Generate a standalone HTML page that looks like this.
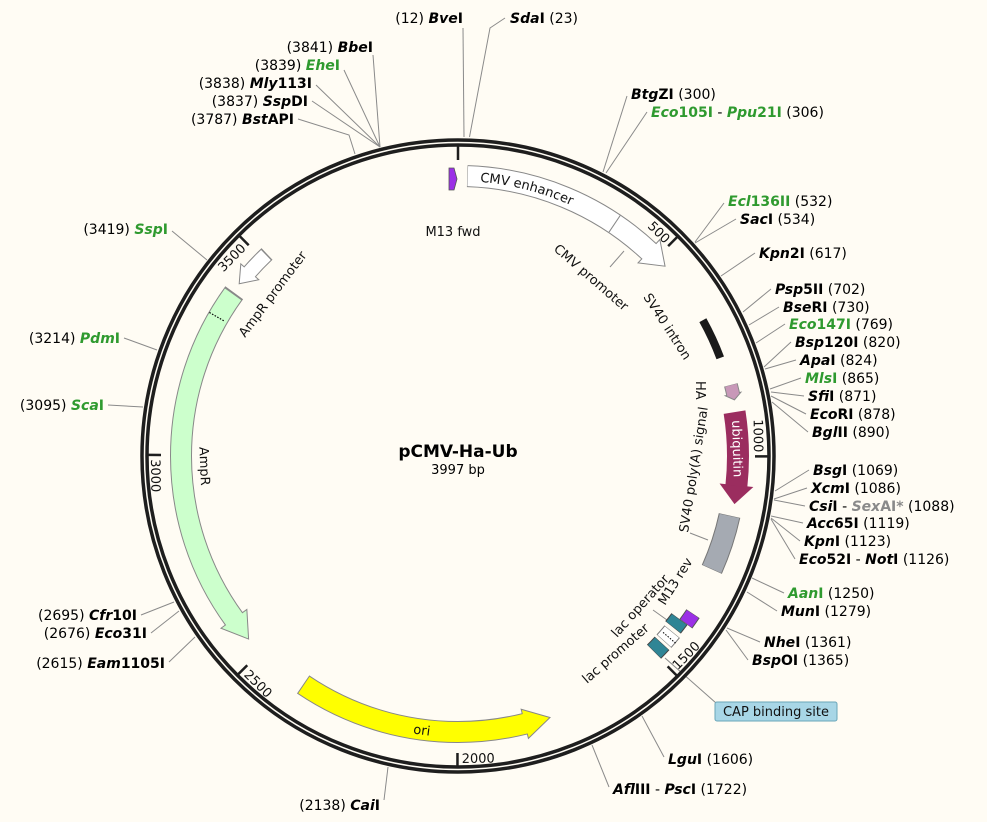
<!DOCTYPE html>
<html><head><meta charset="utf-8"><style>
html,body{margin:0;padding:0;background:#fffcf4;}
svg{display:block;font-family:"DejaVu Sans","Liberation Sans",sans-serif;}
.s{font-size:14px;font-weight:bold;fill:#000;white-space:pre;}
.n{font-weight:normal;}
.i{font-style:italic;}
.g{fill:#2f9a2f;}
.f{font-size:13px;fill:#111;}
.ll{stroke:#8a8a8a;stroke-width:1;fill:none;}
</style></head><body>
<svg width="987" height="822" viewBox="0 0 987 822" xmlns="http://www.w3.org/2000/svg">
<rect width="987" height="822" fill="#fffcf4"/>
<g class="ll">
<polyline points="464,137 463,28"/>
<polyline points="469.5,137 490,28 505,18"/>
<polyline points="380,147 373,55"/>
<polyline points="380,147 344,70"/>
<polyline points="380,147 316,85"/>
<polyline points="380,147 312,101"/>
<polyline points="355,154 349,135 298,119"/>
<polyline points="603,172 627,96"/>
<polyline points="606,173 647,112"/>
<polyline points="695,242 724,203"/>
<polyline points="695,243 736,219"/>
<polyline points="721,276 755,253"/>
<polyline points="743,312 771,289"/>
<polyline points="749,325 779,307"/>
<polyline points="756,343 785,324"/>
<polyline points="764,367 791,342"/>
<polyline points="765,369 796,360"/>
<polyline points="770,389 801,378"/>
<polyline points="771,392 804,396"/>
<polyline points="771,396 806,414"/>
<polyline points="772,402 808,432"/>
<polyline points="775,491 809,470"/>
<polyline points="774,499 807,488"/>
<polyline points="774,500 805,506"/>
<polyline points="771,516 803,523"/>
<polyline points="771,518 800,541"/>
<polyline points="771,519 795,559"/>
<polyline points="752,578 784,593"/>
<polyline points="747,592 777,611"/>
<polyline points="727,628 760,642"/>
<polyline points="726,630 748,660"/>
<polyline points="642,716 664,757"/>
<polyline points="592,745 609,787"/>
<polyline points="388,767 384,800"/>
<polyline points="195,637 169,662"/>
<polyline points="179,611 151,633"/>
<polyline points="174,602 141,615"/>
<polyline points="143,407 108,405"/>
<polyline points="157,350 124,338"/>
<polyline points="207,260 172,231"/>
<polyline points="665,658 716,703"/>
<polyline points="690,533 708,540"/>
<polyline points="624,251 610,267"/>
<polyline points="653,610 667,620"/>
</g>
<circle cx="458" cy="456" r="313.5" fill="none" stroke="#1e1e1e" stroke-width="8.5"/>
<circle cx="458" cy="456" r="313.5" fill="none" stroke="#fffcf4" stroke-width="1.5"/>
<g stroke="#1e1e1e" stroke-width="2.5">
<line x1="458" y1="146" x2="458" y2="160" transform="rotate(0 458 456)"/>
<line x1="458" y1="146" x2="458" y2="159" transform="rotate(45.03 458 456)"/>
<line x1="458" y1="146" x2="458" y2="159" transform="rotate(90.07 458 456)"/>
<line x1="458" y1="146" x2="458" y2="159" transform="rotate(135.1 458 456)"/>
<line x1="458" y1="146" x2="458" y2="159" transform="rotate(180.1 458 456)"/>
<line x1="458" y1="146" x2="458" y2="159" transform="rotate(225.2 458 456)"/>
<line x1="458" y1="146" x2="458" y2="159" transform="rotate(270.2 458 456)"/>
<line x1="458" y1="146" x2="458" y2="159" transform="rotate(315.2 458 456)"/>
</g>
<g class="f">
<text x="458" y="160" text-anchor="end" transform="rotate(44.3 458 456)">500</text>
<text x="458" y="160" text-anchor="end" transform="rotate(89.3 458 456)">1000</text>
<text x="458" y="160" text-anchor="end" transform="rotate(314.4 458 456)">3500</text>
<text x="458" y="763" text-anchor="start" transform="rotate(-45.7 458 456)">1500</text>
<text x="458" y="763" text-anchor="start" transform="rotate(-0.7 458 456)">2000</text>
<text x="458" y="763" text-anchor="start" transform="rotate(44.4 458 456)">2500</text>
<text x="458" y="763" text-anchor="start" transform="rotate(89.4 458 456)">3000</text>
</g>
<g transform="rotate(-90 458 456)" fill="none">
<circle cx="458" cy="456" r="280" pathLength="360" stroke="#888" stroke-width="22" stroke-dasharray="41.2 400" stroke-dashoffset="-1.9"/>
<circle cx="458" cy="456" r="277" pathLength="360" stroke="#888" stroke-width="22" stroke-dasharray="72.2 400" stroke-dashoffset="-234"/>
<circle cx="458" cy="456" r="276" pathLength="360" stroke="#888" stroke-width="22" stroke-dasharray="48.2 400" stroke-dashoffset="-166"/>
<circle cx="458" cy="456" r="278" pathLength="360" stroke="#888" stroke-width="16" stroke-dasharray="5.2 400" stroke-dashoffset="-311.5"/>
<circle cx="458" cy="456" r="278" pathLength="360" stroke="#777" stroke-width="22" stroke-dasharray="11.7 400" stroke-dashoffset="-102.4"/>
<circle cx="458" cy="456" r="282" pathLength="360" stroke="#888" stroke-width="14" stroke-dasharray="2 400" stroke-dashoffset="-75.4"/>
<circle cx="458" cy="456" r="283" pathLength="360" stroke="#555" stroke-width="16" stroke-dasharray="2.5 400" stroke-dashoffset="-123.9"/>
<circle cx="458" cy="456" r="275" pathLength="360" stroke="#444" stroke-width="20" stroke-dasharray="2.2 400" stroke-dashoffset="-126.4"/>
<circle cx="458" cy="456" r="277" pathLength="360" stroke="#777" stroke-width="20" stroke-dasharray="2.6 400" stroke-dashoffset="-129.4"/>
<circle cx="458" cy="456" r="277" pathLength="360" stroke="#444" stroke-width="20" stroke-dasharray="2.4 400" stroke-dashoffset="-132.6"/>
</g>
<polygon points="458,160 458,192 480,176" fill="#fff" stroke="#888" stroke-width="1" transform="rotate(43 458 456)"/>
<polygon points="458,163 458,195 433,179" fill="#ccffcc" stroke="#888" stroke-width="1" transform="rotate(234 458 456)"/>
<polygon points="458,165 458,195 432,180" fill="#ffff00" stroke="#888" stroke-width="1" transform="rotate(166 458 456)"/>
<polygon points="458,166 458,190 442,178" fill="#fff" stroke="#888" stroke-width="1" transform="rotate(311.5 458 456)"/>
<polygon points="458,166 458,182 464,174" fill="#c898b8" stroke="#888" stroke-width="1" transform="rotate(77.3 458 456)"/>
<polygon points="458,159 458,193 477,176" fill="#9b2d5f" transform="rotate(96 458 456)"/>
<g transform="rotate(-90 458 456)" fill="none">
<circle cx="458" cy="456" r="280" pathLength="360" stroke="#fff" stroke-width="20" stroke-dasharray="41.4 400" stroke-dashoffset="-2"/>
<circle cx="458" cy="456" r="277" pathLength="360" stroke="#ccffcc" stroke-width="20" stroke-dasharray="72 400" stroke-dashoffset="-233.8"/>
<circle cx="458" cy="456" r="276" pathLength="360" stroke="#ffff00" stroke-width="20" stroke-dasharray="48.2 400" stroke-dashoffset="-165.8"/>
<circle cx="458" cy="456" r="278" pathLength="360" stroke="#fff" stroke-width="14" stroke-dasharray="5.1 400" stroke-dashoffset="-311.3"/>
<circle cx="458" cy="456" r="278" pathLength="360" stroke="#a5aab2" stroke-width="20" stroke-dasharray="11.5 400" stroke-dashoffset="-102.5"/>
<circle cx="458" cy="456" r="282" pathLength="360" stroke="#c898b8" stroke-width="12" stroke-dasharray="2.1 400" stroke-dashoffset="-75.5"/>
<circle cx="458" cy="456" r="280" pathLength="360" stroke="#1a1a1a" stroke-width="8" stroke-dasharray="8.5 400" stroke-dashoffset="-61"/>
<circle cx="458" cy="456" r="280" pathLength="360" stroke="#9b2d5f" stroke-width="22" stroke-dasharray="15.2 400" stroke-dashoffset="-81"/>
<circle cx="458" cy="456" r="283" pathLength="360" stroke="#9b30e6" stroke-width="14" stroke-dasharray="2.3 400" stroke-dashoffset="-124"/>
<circle cx="458" cy="456" r="275" pathLength="360" stroke="#2f8595" stroke-width="18" stroke-dasharray="2 400" stroke-dashoffset="-126.5"/>
<circle cx="458" cy="456" r="277" pathLength="360" stroke="#fff" stroke-width="18" stroke-dasharray="2.4 400" stroke-dashoffset="-129.5"/>
<circle cx="458" cy="456" r="277" pathLength="360" stroke="#2f8595" stroke-width="18" stroke-dasharray="2.2 400" stroke-dashoffset="-132.7"/>
</g>
<line x1="458" y1="166" x2="458" y2="186" stroke="#888" stroke-width="1" transform="rotate(34 458 456)"/>
<line x1="458" y1="169" x2="458" y2="187" stroke="#000" stroke-width="1.2" stroke-dasharray="1.5 1.5" transform="rotate(300 458 456)"/>
<line x1="458" y1="169" x2="458" y2="187" stroke="#000" stroke-width="1" stroke-dasharray="1.5 1.5" transform="rotate(130.7 458 456)"/>
<polygon points="449,168 454,168 457,179 454,190 449,190" fill="#9b30e6" stroke="#555" stroke-width="0.8"/>
<defs><path id="cmvp" d="M 458 181 A 275 275 0 0 1 733 456"/></defs>
<text class="f" font-size="14"><textPath href="#cmvp" startOffset="22">CMV enhancer</textPath></text>
<text class="f" x="453" y="236" text-anchor="middle">M13 fwd</text>
<text class="f" x="553" y="250" transform="rotate(41 553 250)">CMV promoter</text>
<text class="f" x="643" y="297" transform="rotate(57 643 297)">SV40 intron</text>
<text class="f" x="696" y="381" transform="rotate(90 696 381)">HA</text>
<text class="f" x="688" y="533" transform="rotate(-81 688 533)">SV40 poly(A) signal</text>
<text x="458" y="181" text-anchor="middle" font-size="13" fill="#fff" transform="rotate(88.5 458 456)">ubiquitin</text>
<text class="f" x="665" y="606" transform="rotate(-58 665 606)">M13 rev</text>
<text class="f" x="617" y="638" transform="rotate(-48 617 638)">lac operator</text>
<text class="f" x="587" y="684" transform="rotate(-41 587 684)">lac promoter</text>
<text class="f" x="245" y="338" transform="rotate(-53 245 338)">AmpR promoter</text>
<text class="f" x="458" y="714" text-anchor="middle" transform="rotate(87.7 458 456)">AmpR</text>
<text class="f" x="458" y="737" text-anchor="middle" transform="rotate(7.5 458 456)">ori</text>
<rect x="715" y="702" width="122" height="19" rx="2" fill="#a8d6e6" stroke="#6aa6b8"/>
<text class="f" x="776" y="716" text-anchor="middle">CAP binding site</text>
<text x="458" y="457" text-anchor="middle" font-size="17" font-weight="bold">pCMV-Ha-Ub</text>
<text x="458" y="474" text-anchor="middle" font-size="13">3997 bp</text>
<g class="s">
<text x="463" y="23" text-anchor="end"><tspan class="n">(12)  </tspan><tspan class="i">Bve</tspan>I</text>
<text x="510" y="23"><tspan class="i">Sda</tspan>I<tspan class="n">  (23)</tspan></text>
<text x="373" y="52" text-anchor="end"><tspan class="n">(3841)  </tspan><tspan class="i">Bbe</tspan>I</text>
<text x="340" y="70" text-anchor="end"><tspan class="n">(3839)  </tspan><tspan class="g"><tspan class="i">Ehe</tspan>I</tspan></text>
<text x="312" y="88" text-anchor="end"><tspan class="n">(3838)  </tspan><tspan class="i">Mly</tspan>113I</text>
<text x="308" y="106" text-anchor="end"><tspan class="n">(3837)  </tspan><tspan class="i">Ssp</tspan>DI</text>
<text x="294" y="124" text-anchor="end"><tspan class="n">(3787)  </tspan><tspan class="i">Bst</tspan>API</text>
<text x="631" y="99"><tspan class="i">Btg</tspan>ZI<tspan class="n">  (300)</tspan></text>
<text x="651" y="117"><tspan class="g"><tspan class="i">Eco</tspan>105I</tspan><tspan class="n"> - </tspan><tspan class="g"><tspan class="i">Ppu</tspan>21I</tspan><tspan class="n">  (306)</tspan></text>
<text x="728" y="206"><tspan class="g"><tspan class="i">Ecl</tspan>136II</tspan><tspan class="n">  (532)</tspan></text>
<text x="740" y="224"><tspan class="i">Sac</tspan>I<tspan class="n">  (534)</tspan></text>
<text x="759" y="258"><tspan class="i">Kpn</tspan>2I<tspan class="n">  (617)</tspan></text>
<text x="775" y="294"><tspan class="i">Psp</tspan>5II<tspan class="n">  (702)</tspan></text>
<text x="783" y="312"><tspan class="i">Bse</tspan>RI<tspan class="n">  (730)</tspan></text>
<text x="789" y="329"><tspan class="g"><tspan class="i">Eco</tspan>147I</tspan><tspan class="n">  (769)</tspan></text>
<text x="795" y="347"><tspan class="i">Bsp</tspan>120I<tspan class="n">  (820)</tspan></text>
<text x="800" y="365"><tspan class="i">Apa</tspan>I<tspan class="n">  (824)</tspan></text>
<text x="805" y="383"><tspan class="g"><tspan class="i">Mls</tspan>I</tspan><tspan class="n">  (865)</tspan></text>
<text x="808" y="401"><tspan class="i">Sfi</tspan>I<tspan class="n">  (871)</tspan></text>
<text x="810" y="419"><tspan class="i">Eco</tspan>RI<tspan class="n">  (878)</tspan></text>
<text x="812" y="437"><tspan class="i">Bgl</tspan>II<tspan class="n">  (890)</tspan></text>
<text x="813" y="475"><tspan class="i">Bsg</tspan>I<tspan class="n">  (1069)</tspan></text>
<text x="811" y="493"><tspan class="i">Xcm</tspan>I<tspan class="n">  (1086)</tspan></text>
<text x="809" y="511"><tspan class="i">Csi</tspan>I<tspan class="n"> - </tspan><tspan fill="#8a8a8a"><tspan class="i">Sex</tspan>AI*</tspan><tspan class="n">  (1088)</tspan></text>
<text x="807" y="528"><tspan class="i">Acc</tspan>65I<tspan class="n">  (1119)</tspan></text>
<text x="804" y="546"><tspan class="i">Kpn</tspan>I<tspan class="n">  (1123)</tspan></text>
<text x="799" y="564"><tspan class="i">Eco</tspan>52I<tspan class="n"> - </tspan><tspan class="i">Not</tspan>I<tspan class="n">  (1126)</tspan></text>
<text x="788" y="598"><tspan class="g"><tspan class="i">Aan</tspan>I</tspan><tspan class="n">  (1250)</tspan></text>
<text x="781" y="616"><tspan class="i">Mun</tspan>I<tspan class="n">  (1279)</tspan></text>
<text x="764" y="647"><tspan class="i">Nhe</tspan>I<tspan class="n">  (1361)</tspan></text>
<text x="752" y="665"><tspan class="i">Bsp</tspan>OI<tspan class="n">  (1365)</tspan></text>
<text x="668" y="764"><tspan class="i">Lgu</tspan>I<tspan class="n">  (1606)</tspan></text>
<text x="613" y="794"><tspan class="i">Afl</tspan>III<tspan class="n"> - </tspan><tspan class="i">Psc</tspan>I<tspan class="n">  (1722)</tspan></text>
<text x="380" y="810" text-anchor="end"><tspan class="n">(2138)  </tspan><tspan class="i">Cai</tspan>I</text>
<text x="165" y="668" text-anchor="end"><tspan class="n">(2615)  </tspan><tspan class="i">Eam</tspan>1105I</text>
<text x="147" y="638" text-anchor="end"><tspan class="n">(2676)  </tspan><tspan class="i">Eco</tspan>31I</text>
<text x="137" y="620" text-anchor="end"><tspan class="n">(2695)  </tspan><tspan class="i">Cfr</tspan>10I</text>
<text x="104" y="410" text-anchor="end"><tspan class="n">(3095)  </tspan><tspan class="g"><tspan class="i">Sca</tspan>I</tspan></text>
<text x="120" y="343" text-anchor="end"><tspan class="n">(3214)  </tspan><tspan class="g"><tspan class="i">Pdm</tspan>I</tspan></text>
<text x="168" y="234" text-anchor="end"><tspan class="n">(3419)  </tspan><tspan class="g"><tspan class="i">Ssp</tspan>I</tspan></text>
</g>
</svg>
</body></html>
